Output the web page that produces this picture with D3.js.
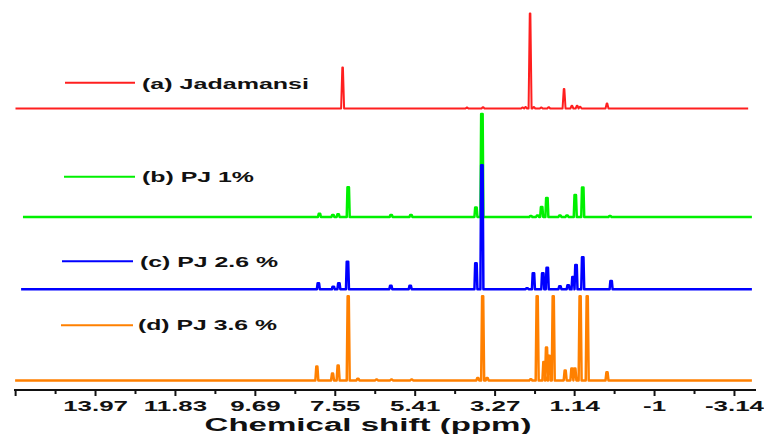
<!DOCTYPE html>
<html>
<head>
<meta charset="utf-8">
<script src="https://cdn.jsdelivr.net/npm/d3@7"></script>
<style>
  body { margin: 0; background: #fff; }
  svg { display: block; }
  text { font-family: "Liberation Sans", Arial, sans-serif; font-weight: bold; fill: #111; }
</style>
</head>
<body>
<div id="chart"></div>
<script>
// 1H NMR peaks, [ppm, relative intensity]
const redPeaks = [
  [7.34, 33], [4.01, 0.8], [3.58, 1], [2.52, 0.8], [2.44, 1.2], [2.32, 76.6],
  [2.22, 1.2], [2.02, 0.8], [1.82, 1], [1.41, 15.7], [1.2, 2.2], [1.06, 2.2],
  [0.98, 1.4], [0.26, 4]
];
const greenPeaks = [
  [7.96, 2.7], [7.6, 1.6], [7.46, 2.2], [7.19, 24], [6.04, 1.6], [5.51, 1.6],
  [3.77, 7.7], [3.61, 83], [2.3, 0.8], [2.12, 1.2], [2.01, 8], [1.87, 15.3],
  [1.52, 1.2], [1.33, 1.2], [1.11, 17.7], [0.91, 23.8], [0.18, 0.8]
];
const bluePeaks = [
  [7.99, 4.8], [7.59, 2.1], [7.44, 4.8], [7.21, 22.3], [6.05, 2.9], [5.53, 2.9],
  [3.77, 21], [3.61, 100], [2.4, 0.8], [2.23, 12.9], [1.98, 12.9], [1.86, 17.4],
  [1.52, 2.4], [1.3, 3.2], [1.17, 10], [1.09, 19.6], [0.91, 25.8], [0.15, 6.7]
];
const orangePeaks = [
  [8.03, 11.3], [7.61, 5.6], [7.46, 12.1], [7.19, 68], [6.93, 1.5], [6.43, 0.8],
  [6.03, 0.8], [5.49, 0.8], [3.72, 2], [3.59, 68], [3.47, 2], [2.3, 1], [2.13, 68],
  [1.95, 15], [1.88, 26.6], [1.81, 20], [1.7, 68], [1.38, 8], [1.2, 9.7], [1.12, 9.7],
  [0.98, 68], [0.79, 68], [0.26, 6.7]
];

const labels = ['(a) Jadamansi', '(b) PJ 1%', '(c) PJ 2.6 %', '(d) PJ 3.6 %'];
const colors = ['#ff1f1f', '#00f000', '#0000ff', '#ff8000'];

const majorTicks = [16.11, 13.97, 11.83, 9.69, 7.55, 5.41, 3.27, 1.14, -1, -3.14];
const majorLabels = ['', '13.97', '11.83', '9.69', '7.55', '5.41', '3.27', '1.14', '-1', '-3.14'];
const minorTicks = [15.04, 12.9, 10.76, 8.62, 6.48, 4.34, 2.2, 0.07, -2.07];

const width = 764;
const height = 434;

const x = d3.scaleLinear().domain([16.14, -3.73]).range([14, 756]);
const y = d3.scaleLinear().domain([0, 100]).range([0, 124]);

const svg = d3.select('#chart').append('svg')
  .attr('width', width)
  .attr('height', height);

// panel layout: baseline, start/end of trace (ppm), legend position
const panels = [
  { peaks: redPeaks, base: 108.5, from: 16.1, to: -3.52, sw: 2, top: 0.008, ly: 82.7, lx1: 65, lx2: 135, tx: 142, ty: 89, tw: 167 },
  { peaks: greenPeaks, base: 217, from: 15.9, to: -3.62, sw: 2.5, top: 0.02, ly: 176.7, lx1: 64, lx2: 135, tx: 142, ty: 182, tw: 112 },
  { peaks: bluePeaks, base: 289.3, from: 15.95, to: -3.62, sw: 2.5, top: 0.02, ly: 261.3, lx1: 62, lx2: 133, tx: 140, ty: 266.7, tw: 138 },
  { peaks: orangePeaks, base: 380.5, from: 16.11, to: -3.62, sw: 2.5, top: 0.015, ly: 325.3, lx1: 61, lx2: 133, tx: 138, ty: 330, tw: 139 },
];

const hw = 0.04;
function tracePoints(p) {
  const pts = [[p.from, 0]];
  p.peaks.slice().sort((a, b) => b[0] - a[0]).forEach(function (d) {
    pts.push([d[0] + hw, 0], [d[0] + p.top, d[1]], [d[0] - p.top, d[1]], [d[0] - hw, 0]);
  });
  pts.push([p.to, 0]);
  return pts;
}

panels.forEach(function (p, i) {
  const line = d3.line()
    .x(d => x(d[0]))
    .y(d => p.base - y(d[1]));

  svg.append('path')
    .datum(tracePoints(p))
    .attr('d', line)
    .attr('fill', 'none')
    .attr('stroke', colors[i])
    .attr('stroke-width', p.sw)
    .attr('stroke-linejoin', 'round');

  svg.append('line')
    .attr('x1', p.lx1)
    .attr('x2', p.lx2)
    .attr('y1', p.ly)
    .attr('y2', p.ly)
    .attr('stroke', colors[i])
    .attr('stroke-width', 2);

  svg.append('text')
    .attr('x', p.tx)
    .attr('y', p.ty)
    .style('font-size', '15px')
    .attr('textLength', p.tw)
    .attr('lengthAdjust', 'spacingAndGlyphs')
    .text(labels[i]);
});

// x axis
const axisY = 390;
const gMinor = svg.append('g')
  .attr('transform', `translate(0, ${axisY})`)
  .call(d3.axisBottom(x).tickValues(minorTicks).tickSize(4).tickFormat(''));

const gMajor = svg.append('g')
  .attr('transform', `translate(0, ${axisY})`)
  .call(d3.axisBottom(x).tickValues(majorTicks).tickSize(6)
    .tickFormat((d, i) => majorLabels[i]));

[gMinor, gMajor].forEach(function (g) {
  g.select('.domain')
    .attr('d', `M${x.range()[0]},0H${x.range()[1]}`)
    .attr('stroke', '#111')
    .attr('stroke-width', 2);
  g.selectAll('.tick line').attr('stroke', '#111').attr('stroke-width', 2);
});

gMajor.selectAll('.tick text')
  .attr('y', 20.7)
  .attr('dy', 0)
  .style('font-size', '14px')
  .attr('fill', '#111')
  .each(function () {
    const w = this.getComputedTextLength();
    if (w > 0) {
      d3.select(this)
        .attr('textLength', w * 1.85)
        .attr('lengthAdjust', 'spacingAndGlyphs');
    }
  });

svg.append('text')
  .attr('x', 368)
  .attr('y', 431)
  .attr('text-anchor', 'middle')
  .style('font-size', '18px')
  .attr('textLength', 327)
  .attr('lengthAdjust', 'spacingAndGlyphs')
  .text('Chemical shift (ppm)');
</script>
</body>
</html>
